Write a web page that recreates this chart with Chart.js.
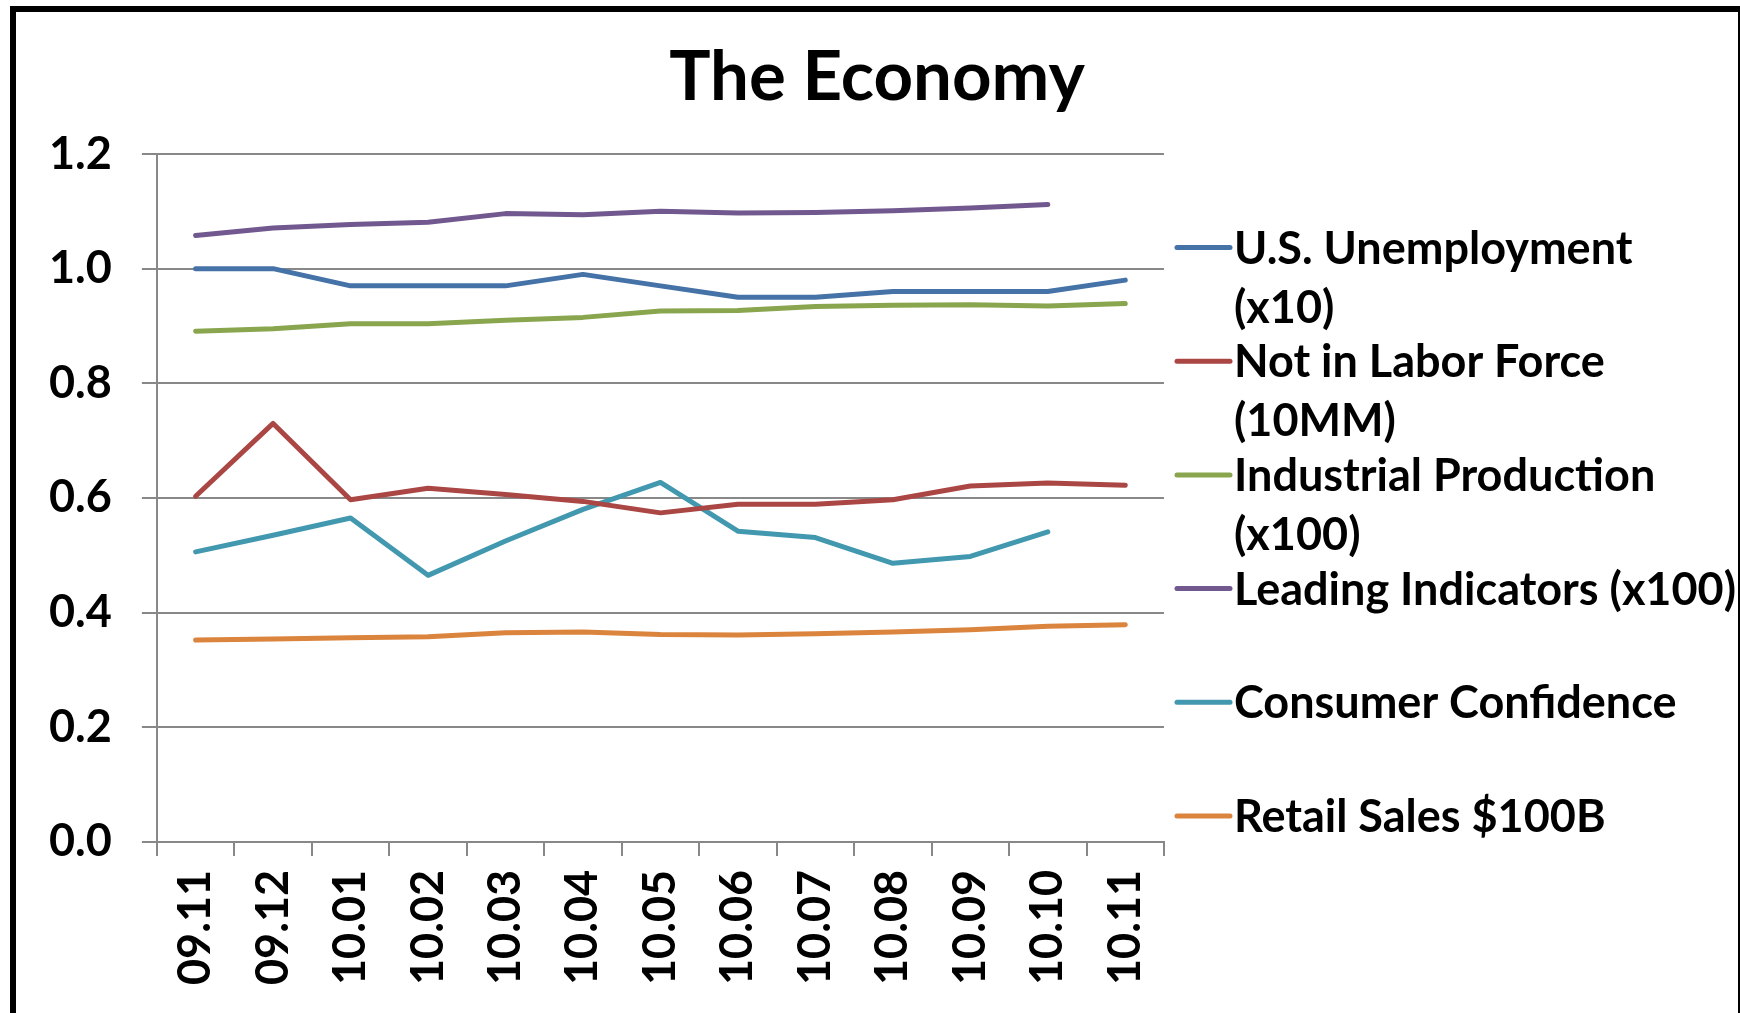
<!DOCTYPE html>
<html>
<head>
<meta charset="utf-8">
<script src="https://cdn.jsdelivr.net/npm/chart.js@4.4.1/dist/chart.umd.min.js"></script>
<style>
  html, body { margin: 0; padding: 0; background: #fff; overflow: hidden; }
  #wrap { position: relative; width: 1740px; height: 1013px; }
  #frame { position: absolute; left: 10px; top: 6px; width: 1722px; height: 1100px;
           border-left: 6px solid #000; border-top: 6px solid #000; border-right: 3px solid #000;
           pointer-events: none; }
</style>
</head>
<body>
<div id="wrap">
  <canvas id="econChart" width="1740" height="1013"></canvas>
  <div id="frame"></div>
</div>
<script>
var months = ["09.11","09.12","10.01","10.02","10.03","10.04","10.05","10.06","10.07","10.08","10.09","10.10","10.11"];
var unemployment = [1.00, 1.00, 0.97, 0.97, 0.97, 0.99, 0.97, 0.95, 0.95, 0.96, 0.96, 0.96, 0.98];
var notInLabor   = [0.603, 0.730, 0.597, 0.617, 0.606, 0.594, 0.574, 0.589, 0.589, 0.597, 0.621, 0.626, 0.622];
var industrial   = [0.891, 0.895, 0.904, 0.904, 0.910, 0.915, 0.926, 0.927, 0.934, 0.936, 0.937, 0.935, 0.939];
var leading      = [1.058, 1.071, 1.077, 1.081, 1.096, 1.094, 1.100, 1.097, 1.098, 1.101, 1.106, 1.112, null];
var confidence   = [0.506, 0.535, 0.565, 0.465, 0.525, 0.580, 0.627, 0.542, 0.531, 0.486, 0.498, 0.541, null];
var retail       = [0.352, 0.354, 0.356, 0.358, 0.365, 0.366, 0.362, 0.361, 0.363, 0.366, 0.370, 0.376, 0.379];

var seriesNames = [
    ["U.S. Unemployment", "(x10)"],
    ["Not in Labor Force", "(10MM)"],
    ["Industrial Production", "(x100)"],
    ["Leading Indicators (x100)"],
    ["Consumer Confidence"],
    ["Retail Sales $100B"]
];
var seriesColors = ["#4572A7", "#AA4643", "#89A54E", "#71588F", "#4198AF", "#DB843D"];
var seriesData = [unemployment, notInLabor, industrial, leading, confidence, retail];

var boldFont = "Lato, 'Open Sans', sans-serif";

// title + side legend drawn on the canvas
var sideStuff = {
    id: 'sideStuff',
    afterDraw: function(chart) {
        var c = chart.ctx;
        c.save();
        c.fillStyle = '#000';
        c.font = "bold 69px " + boldFont;
        c.textAlign = 'center';
        c.textBaseline = 'alphabetic';
        c.fillText("The Economy", 877, 100);

        c.font = "bold 45px " + boldFont;
        c.textAlign = 'left';
        var y0 = 247.5, step = 113.7;
        for (var i = 0; i < chart.data.datasets.length; i++) {
            var ds = chart.data.datasets[i];
            var y = y0 + i * step;
            c.strokeStyle = ds.borderColor;
            c.lineWidth = 5;
            c.lineCap = 'round';
            c.beginPath();
            c.moveTo(1177, y);
            c.lineTo(1230, y);
            c.stroke();
            var lines = seriesNames[i];
            for (var k = 0; k < lines.length; k++) {
                c.fillText(lines[k], 1234, y + 16 + k * 59);
            }
        }
        c.restore();
    }
};

var ctx = document.getElementById("econChart");
var econChart = new Chart(ctx, {
    type: 'line',
    data: {
        labels: months,
        datasets: seriesData.map(function(d, i) {
            return {
                label: seriesNames[i].join(" "),
                data: d,
                borderColor: seriesColors[i],
                backgroundColor: seriesColors[i],
                borderWidth: 5,
                borderCapStyle: 'round',
                borderJoinStyle: 'round',
                pointRadius: 0,
                fill: false,
                tension: 0
            };
        })
    },
    options: {
        responsive: false,
        animation: false,
        layout: { padding: { left: 19, top: 154, right: 576, bottom: 14 } },
        plugins: {
            legend: { display: false },
            title: { display: false },
            tooltip: { enabled: false }
        },
        scales: {
            x: {
                offset: true,
                grid: { display: true, drawOnChartArea: false, offset: true, tickLength: 14, color: '#888', lineWidth: 2 },
                border: { color: '#888', width: 2 },
                ticks: {
                    color: '#000',
                    font: { family: boldFont, weight: 'bold', size: 45 },
                    minRotation: 90, maxRotation: 90, padding: 14, autoSkip: false
                }
            },
            y: {
                min: 0, max: 1.2,
                grid: { color: '#888', lineWidth: 2, tickLength: 15 },
                border: { color: '#888', width: 2 },
                ticks: {
                    stepSize: 0.2,
                    color: '#000',
                    padding: 30,
                    font: { family: boldFont, weight: 'bold', size: 45 },
                    callback: function(v) { return Number(v).toFixed(1); }
                }
            }
        }
    },
    plugins: [sideStuff]
});
</script>
</body>
</html>
